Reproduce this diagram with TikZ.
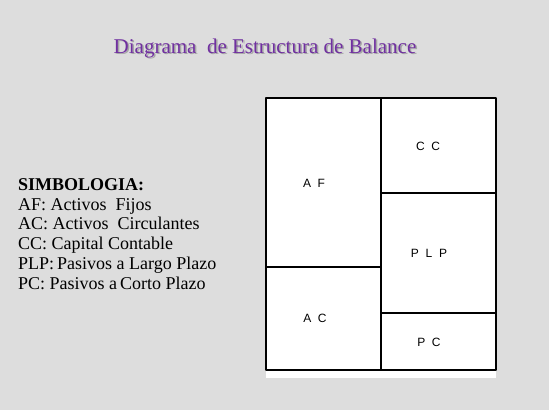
\documentclass[tikz,border=0pt]{standalone}
\usepackage{fontspec}
\setmainfont{Liberation Serif}
\newfontfamily\boxfont{Liberation Sans}
\usepackage{tikz}
\usetikzlibrary{positioning}
\definecolor{fondo}{RGB}{221,221,221}
\definecolor{titulo}{RGB}{112,48,160}
\tikzset{
  leyenda/.style={anchor=base west,inner sep=0pt,font=\fontsize{18}{20}\selectfont},
  celda/.style={font=\boxfont\fontsize{12}{14}\selectfont,inner sep=0pt}
}
\begin{document}
\begin{tikzpicture}[line cap=round,line join=round,x=1pt,y=-1pt]
    \fill[fondo] (0,0) rectangle (549,410);
    \useasboundingbox (0,0) rectangle (549,410);
    % titulo con sombra
    \node[text=gray!70,font=\fontsize{21}{24}\selectfont] (sombra) at (266.5,49.5) {Diagrama\ \ de Estructura de Balance};
    \node[text=titulo,font=\fontsize{21}{24}\selectfont] (titulo) at (265,48) {Diagrama\ \ de Estructura de Balance};
    % simbologia
    \node[leyenda] (simb) at (18,190) {\textbf{SIMBOLOGIA:}};
    \foreach \y/\t/\n in {210/{AF: Activos\ \ Fijos}/af,229.5/{AC: Activos\ \ Circulantes}/ac,249.5/{CC: Capital\ Contable}/cc,269.5/{PLP:\,Pasivos a Largo Plazo}/plp,289/{PC: Pasivos a\,Corto Plazo}/pc}
    \node[leyenda] (l\n) at (18,\y) {\t};
    % balance
    \fill[white] (266,98) rectangle (496,378);
    \draw[line width=1.1pt] (266,98) rectangle (496,370);
    \draw[line width=1.1pt] (381,98) -- (381,370);
    \draw[line width=1.1pt] (266,267) -- (381,267);
    \draw[line width=1.1pt] (381,193) -- (496,193);
    \draw[line width=1.1pt] (381,313) -- (496,313);
    \node[celda] (AF) at (314,183) {A\ \ F};
    \node[celda] (AC) at (315,318) {A\ \ C};
    \node[celda] (CC) at (428,146) {C\ \ C};
    \node[celda] (PLP) at (429,253) {P\ \ L\ \ P};
    \node[celda] (PC) at (429,342) {P\ \ C};
\end{tikzpicture}
\end{document}
